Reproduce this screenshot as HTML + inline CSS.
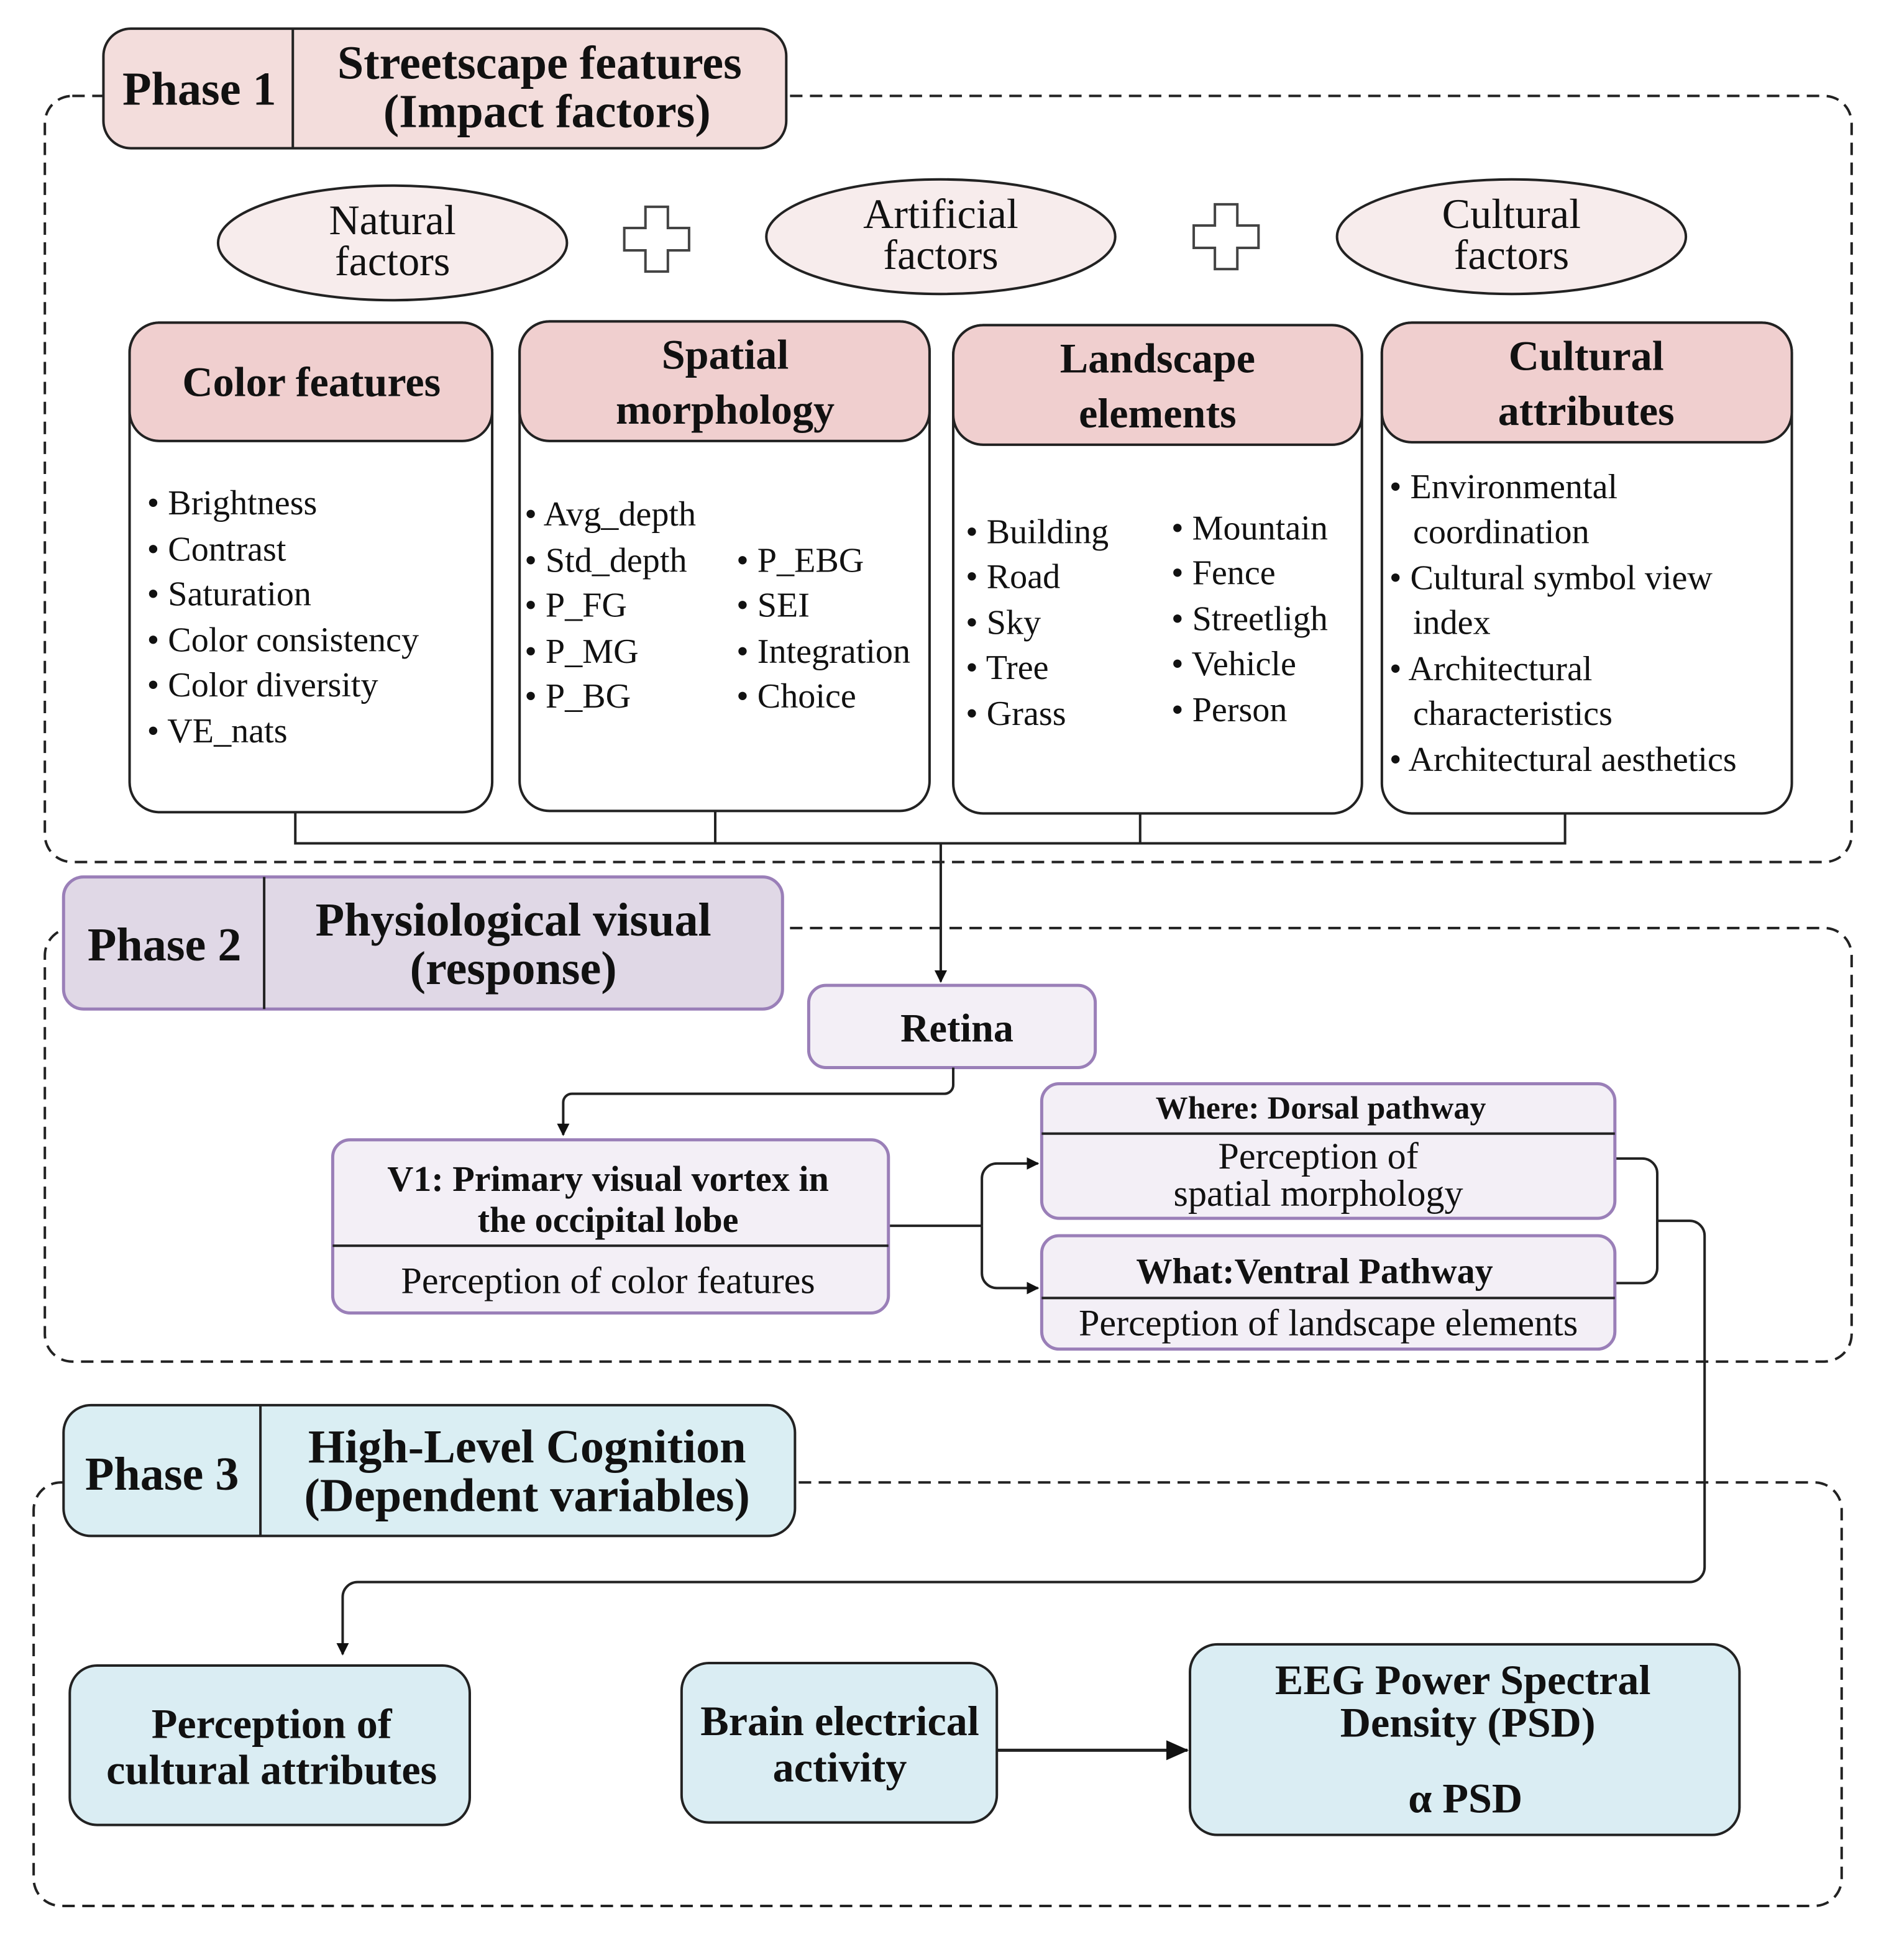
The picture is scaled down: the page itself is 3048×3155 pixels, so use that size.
<!DOCTYPE html>
<html><head><meta charset="utf-8"><style>
html,body{margin:0;padding:0;background:#fff}
svg{display:block}
text{font-family:"Liberation Serif",serif;fill:#111}
.b{font-weight:bold}
</style></head><body>
<svg width="3048" height="3155" viewBox="0 0 1520 1573.4" preserveAspectRatio="none" xmlns="http://www.w3.org/2000/svg">
<defs>
<marker id="ar" markerWidth="10" markerHeight="10" refX="9" refY="5" orient="auto" markerUnits="userSpaceOnUse"><path d="M0,0 L10,5 L0,10 z" fill="#111"/></marker>
<marker id="ar2" markerWidth="18" markerHeight="16" refX="17" refY="8" orient="auto" markerUnits="userSpaceOnUse"><path d="M0,0 L18,8 L0,16 z" fill="#111"/></marker>
</defs>
<g fill="none" stroke="#222" stroke-width="2" stroke-dasharray="10,6">
<rect x="36" y="77" width="1450" height="615" rx="22"/>
<rect x="36" y="745" width="1450" height="348" rx="22"/>
<rect x="27" y="1190" width="1451" height="340" rx="22"/>
</g>
<!-- Phase 1 header -->
<rect x="83" y="23" width="548" height="96" rx="22" fill="#f3dddc" stroke="#222" stroke-width="2"/>
<line x1="235" y1="23" x2="235" y2="119" stroke="#222" stroke-width="2"/>
<text class="b" x="160" y="84" font-size="38" text-anchor="middle">Phase 1</text>
<text class="b" x="433" y="63" font-size="38" text-anchor="middle">Streetscape features</text>
<text class="b" x="439" y="102" font-size="38" text-anchor="middle">(Impact factors)</text>
<!-- ellipses -->
<g fill="#f7ecec" stroke="#222" stroke-width="2">
<ellipse cx="315" cy="195" rx="140" ry="46"/>
<ellipse cx="755" cy="190" rx="140" ry="46"/>
<ellipse cx="1213" cy="190" rx="140" ry="46"/>
</g>
<g font-size="34" text-anchor="middle">
<text x="315" y="188">Natural</text><text x="315" y="221">factors</text>
<text x="755" y="183">Artificial</text><text x="755" y="216">factors</text>
<text x="1213" y="183">Cultural</text><text x="1213" y="216">factors</text>
</g>
<g fill="#fff" stroke="#444" stroke-width="2">
<path d="M518,166 h18 v17 h17 v18 h-17 v17 h-18 v-17 h-17 v-18 h17 z"/>
<path d="M975,164 h18 v17 h17 v18 h-17 v17 h-18 v-17 h-17 v-18 h17 z"/>
</g>
<!-- four boxes -->
<g stroke="#222" stroke-width="2">
<rect x="104" y="259" width="291" height="393" rx="24" fill="#fff"/>
<path d="M104,330 v-47 a24,24 0 0 1 24,-24 h243 a24,24 0 0 1 24,24 v47 a24,24 0 0 1 -24,24 h-243 a24,24 0 0 1 -24,-24z" fill="#f0cfcf"/>
<rect x="417" y="258" width="329" height="393" rx="24" fill="#fff"/>
<path d="M417,330 v-48 a24,24 0 0 1 24,-24 h281 a24,24 0 0 1 24,24 v48 a24,24 0 0 1 -24,24 h-281 a24,24 0 0 1 -24,-24z" fill="#f0cfcf"/>
<rect x="765" y="261" width="328" height="392" rx="24" fill="#fff"/>
<path d="M765,333 v-48 a24,24 0 0 1 24,-24 h280 a24,24 0 0 1 24,24 v48 a24,24 0 0 1 -24,24 h-280 a24,24 0 0 1 -24,-24z" fill="#f0cfcf"/>
<rect x="1109" y="259" width="329" height="394" rx="24" fill="#fff"/>
<path d="M1109,331 v-48 a24,24 0 0 1 24,-24 h281 a24,24 0 0 1 24,24 v48 a24,24 0 0 1 -24,24 h-281 a24,24 0 0 1 -24,-24z" fill="#f0cfcf"/>
</g>
<g class="b" font-size="34" text-anchor="middle">
<text class="b" x="250" y="318">Color features</text>
<text class="b" x="582" y="296">Spatial</text><text class="b" x="582" y="340">morphology</text>
<text class="b" x="929" y="299">Landscape</text><text class="b" x="929" y="343">elements</text>
<text class="b" x="1273" y="297">Cultural</text><text class="b" x="1273" y="341">attributes</text>
</g>
<g font-size="28">
<text x="118" y="413">• Brightness</text>
<text x="118" y="450">• Contrast</text>
<text x="118" y="486">• Saturation</text>
<text x="118" y="523">• Color consistency</text>
<text x="118" y="559">• Color diversity</text>
<text x="118" y="596">• VE_nats</text>
<text x="421" y="422">• Avg_depth</text>
<text x="421" y="459">• Std_depth</text>
<text x="421" y="495">• P_FG</text>
<text x="421" y="532">• P_MG</text>
<text x="421" y="568">• P_BG</text>
<text x="591" y="459">• P_EBG</text>
<text x="591" y="495">• SEI</text>
<text x="591" y="532">• Integration</text>
<text x="591" y="568">• Choice</text>
<text x="775" y="436">• Building</text>
<text x="775" y="472">• Road</text>
<text x="775" y="509">• Sky</text>
<text x="775" y="545">• Tree</text>
<text x="775" y="582">• Grass</text>
<text x="940" y="433">• Mountain</text>
<text x="940" y="469">• Fence</text>
<text x="940" y="506">• Streetligh</text>
<text x="940" y="542">• Vehicle</text>
<text x="940" y="579">• Person</text>
<text x="1115" y="400">• Environmental</text>
<text x="1134" y="436">coordination</text>
<text x="1115" y="473">• Cultural symbol view</text>
<text x="1134" y="509">index</text>
<text x="1115" y="546">• Architectural</text>
<text x="1134" y="582">characteristics</text>
<text x="1115" y="619">• Architectural aesthetics</text>
</g>
<!-- connectors phase 1 -->
<g fill="none" stroke="#222" stroke-width="2">
<path d="M237,652 V677 H1256 V653"/>
<path d="M574,651 V677 M915,653 V677"/>
<path d="M755,677 V788" marker-end="url(#ar)"/>
</g>
<!-- Phase 2 header -->
<rect x="51" y="704" width="577" height="106" rx="16" fill="#e0d8e6" stroke="#9a7fb8" stroke-width="2.5"/>
<line x1="212" y1="704" x2="212" y2="810" stroke="#222" stroke-width="2"/>
<text class="b" x="132" y="771" font-size="38" text-anchor="middle">Phase 2</text>
<text class="b" x="412" y="751" font-size="38" text-anchor="middle">Physiological visual</text>
<text class="b" x="412" y="790" font-size="38" text-anchor="middle">(response)</text>
<!-- Retina -->
<rect x="649" y="791" width="230" height="66" rx="14" fill="#f3eff6" stroke="#9a7fb8" stroke-width="2.5"/>
<text class="b" x="768" y="836" font-size="32" text-anchor="middle">Retina</text>
<g fill="none" stroke="#222" stroke-width="2">
<path d="M765,857 V871 a7,7 0 0 1 -7,7 H459 a7,7 0 0 0 -7,7 V911" marker-end="url(#ar)"/>
<path d="M713,984 H788"/>
<path d="M788,984 V946 a12,12 0 0 1 12,-12 H833" marker-end="url(#ar)"/>
<path d="M788,984 V1022 a12,12 0 0 0 12,12 H833" marker-end="url(#ar)"/>
<path d="M1296,930 H1318 a12,12 0 0 1 12,12 V1018 a12,12 0 0 1 -12,12 H1296"/>
<path d="M1330,980 H1356 a12,12 0 0 1 12,12 V1258 a12,12 0 0 1 -12,12 H287 a12,12 0 0 0 -12,12 V1328" marker-end="url(#ar)"/>
</g>
<!-- V1 -->
<rect x="267" y="915" width="446" height="139" rx="14" fill="#f3eff6" stroke="#9a7fb8" stroke-width="2.5"/>
<line x1="267" y1="1000" x2="713" y2="1000" stroke="#222" stroke-width="2"/>
<text class="b" x="488" y="956" font-size="29" text-anchor="middle">V1: Primary visual vortex in</text>
<text class="b" x="488" y="989" font-size="29" text-anchor="middle">the occipital lobe</text>
<text x="488" y="1038" font-size="30" text-anchor="middle">Perception of color features</text>
<!-- Dorsal -->
<rect x="836" y="870" width="460" height="108" rx="14" fill="#f3eff6" stroke="#9a7fb8" stroke-width="2.5"/>
<line x1="836" y1="910" x2="1296" y2="910" stroke="#222" stroke-width="2"/>
<text class="b" x="1060" y="898" font-size="26" text-anchor="middle">Where: Dorsal pathway</text>
<text x="1058" y="938" font-size="30" text-anchor="middle">Perception of</text>
<text x="1058" y="968" font-size="30" text-anchor="middle">spatial morphology</text>
<!-- Ventral -->
<rect x="836" y="992" width="460" height="91" rx="14" fill="#f3eff6" stroke="#9a7fb8" stroke-width="2.5"/>
<line x1="836" y1="1042" x2="1296" y2="1042" stroke="#222" stroke-width="2"/>
<text class="b" x="1055" y="1030" font-size="29" text-anchor="middle">What:Ventral Pathway</text>
<text x="1066" y="1072" font-size="30" text-anchor="middle">Perception of landscape elements</text>
<!-- Phase 3 header -->
<rect x="51" y="1128" width="587" height="105" rx="22" fill="#daeef3" stroke="#222" stroke-width="2"/>
<line x1="209" y1="1128" x2="209" y2="1233" stroke="#222" stroke-width="2"/>
<text class="b" x="130" y="1196" font-size="38" text-anchor="middle">Phase 3</text>
<text class="b" x="423" y="1174" font-size="38" text-anchor="middle">High-Level Cognition</text>
<text class="b" x="423" y="1213" font-size="38" text-anchor="middle">(Dependent variables)</text>
<!-- Phase 3 boxes -->
<g fill="#daedf3" stroke="#222" stroke-width="2">
<rect x="56" y="1337" width="321" height="128" rx="22"/>
<rect x="547" y="1335" width="253" height="128" rx="22"/>
<rect x="955" y="1320" width="441" height="153" rx="22"/>
</g>
<g class="b" font-size="34" text-anchor="middle">
<text class="b" x="218" y="1395">Perception of</text>
<text class="b" x="218" y="1432">cultural attributes</text>
<text class="b" x="674" y="1393">Brain electrical</text>
<text class="b" x="674" y="1430">activity</text>
<text class="b" x="1174" y="1360">EEG Power Spectral</text>
<text class="b" x="1178" y="1394">Density (PSD)</text>
<text class="b" x="1176" y="1455">α PSD</text>
</g>
<path d="M800,1405 H953" stroke="#222" stroke-width="2.5" fill="none" marker-end="url(#ar2)"/>
</svg>
</body></html>
